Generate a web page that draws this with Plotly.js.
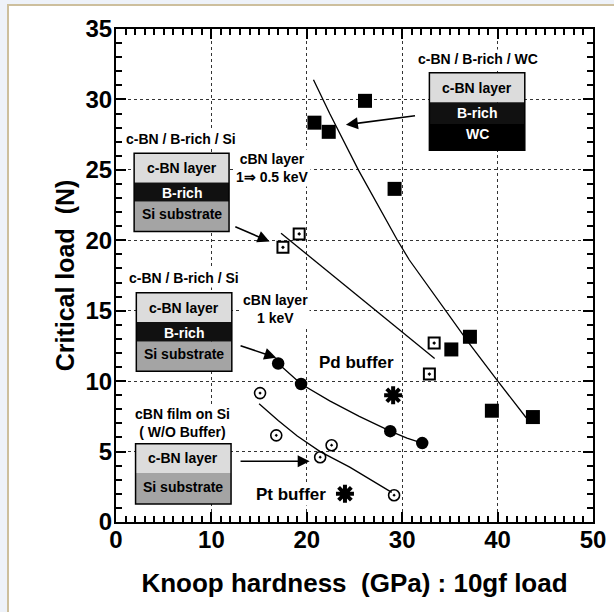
<!DOCTYPE html>
<html>
<head>
<meta charset="utf-8">
<script src="https://cdn.plot.ly/plotly-3.0.1.min.js"></script>
<style>
  html, body { margin: 0; padding: 0; width: 614px; height: 612px; overflow: hidden; background: #eef2f9; }
  #frame { position: absolute; left: 7px; top: 4px; width: 607px; height: 608px; background: #ffffff;
           border-left: 2px solid #cdbf9d; border-top: 2px solid #cdbf9d; box-sizing: border-box; }
  #chart { position: absolute; left: 0; top: 0; width: 614px; height: 612px; }
</style>
</head>
<body>
<div id="frame"></div>
<div id="chart"></div>
<script>
// ---- Data ----
// c-BN / B-rich / WC (filled squares)
const wcX = [20.8, 22.3, 26.1, 29.2, 35.15, 37.1, 39.4, 43.7];
const wcY = [28.35, 27.7, 29.9, 23.65, 12.25, 13.15, 7.9, 7.45];
const wcFitX = [20.7, 22.4, 25.4, 29.5, 30.75, 37.0, 39.8, 43.0];
const wcFitY = [31.4, 29.0, 25.0, 20.0, 18.6, 12.7, 10.2, 7.4];

// c-BN / B-rich / Si, cBN layer 1 => 0.5 keV (open squares with dot)
const halfX = [17.5, 19.2, 33.35, 32.85];
const halfY = [19.5, 20.45, 12.7, 10.5];
const halfFitX = [17.3, 33.4];
const halfFitY = [20.5, 11.6];

// c-BN / B-rich / Si, cBN layer 1 keV (filled circles)
const oneX = [17.0, 19.4, 28.75, 32.1];
const oneY = [11.25, 9.8, 6.45, 5.6];
const oneFitX = [17.0, 19.4, 22.4, 25.5, 28.75, 30.5, 32.1];
const oneFitY = [11.25, 9.8, 8.6, 7.5, 6.45, 5.95, 5.6];

// cBN film on Si without buffer (open circles with dot)
const noBufX = [15.1, 16.8, 22.6, 21.4, 29.15];
const noBufY = [9.15, 6.15, 5.45, 4.6, 1.9];
const noBufFitX = [15.0, 17.0, 19.0, 21.4, 24.5, 27.0, 28.9];
const noBufFitY = [8.4, 7.2, 6.1, 5.0, 3.9, 2.9, 2.1];

// Pd and Pt buffers (asterisks)
const pdX = [29.05];
const pdY = [9.0];
const ptX = [24.0];
const ptY = [2.0];

// Axis ranges and tick steps
const xRange = [0, 50];
const yRange = [0, 35];
const xMajor = 10, xMinor = 1;
const yMajor = 5, yMinor = 1;

// Layer diagrams: [x0, x1], layer boundaries (top -> bottom), labels
const boxWC = {x: [32.85, 42.85], y: [31.9, 29.8, 28.25, 26.4], labels: ['c-BN layer', 'B-rich', 'WC'], labelY: [30.83, 29.02, 27.55]};
const boxHalf = {x: [1.9, 11.85], y: [26.18, 24.1, 22.73, 20.62], labels: ['c-BN layer', 'B-rich', 'Si substrate'], labelY: [25.13, 23.37, 21.87]};
const boxOne = {x: [2.13, 12.14], y: [16.28, 14.19, 12.8, 10.71], labels: ['c-BN layer', 'B-rich', 'Si substrate'], labelY: [15.22, 13.44, 11.91]};
const boxNo = {x: [2.05, 12.06], y: [5.56, 3.48, 1.28], labels: ['c-BN layer', 'Si substrate'], labelY: [4.54, 2.48]};

// Arrows: [tailX, tailY, headX, headY]
const arrows = [
  [31.5, 28.85, 24.1, 28.2],
  [12.35, 21.0, 16.1, 19.92],
  [12.9, 12.55, 16.8, 11.66],
  [12.9, 4.31, 20.3, 4.31]
];

// ---- Build figure ----
const FONT = 'Arial, "Liberation Sans", Helvetica, sans-serif';
const lineStyle = {color: '#000', width: 1.3};

const traces = [
  {x: wcFitX, y: wcFitY, mode: 'lines', line: lineStyle, hoverinfo: 'skip'},
  {x: halfFitX, y: halfFitY, mode: 'lines', line: lineStyle, hoverinfo: 'skip'},
  {x: oneFitX, y: oneFitY, mode: 'lines', line: lineStyle, hoverinfo: 'skip'},
  {x: noBufFitX, y: noBufFitY, mode: 'lines', line: lineStyle, hoverinfo: 'skip'},
  {x: wcX, y: wcY, mode: 'markers', marker: {symbol: 'square', size: 14, color: '#000'}},
  {x: halfX, y: halfY, mode: 'markers', marker: {symbol: 'square-open-dot', size: 11, color: '#000', line: {width: 2, color: '#000'}}},
  {x: oneX, y: oneY, mode: 'markers', marker: {symbol: 'circle', size: 12.5, color: '#000'}},
  {x: noBufX, y: noBufY, mode: 'markers', marker: {symbol: 'circle-open-dot', size: 11, color: '#000', line: {width: 1.6, color: '#000'}}},
  {x: pdX, y: pdY, mode: 'markers', marker: {symbol: 'asterisk-open', size: 15, color: '#000', line: {width: 4, color: '#000'}}},
  {x: ptX, y: ptY, mode: 'markers', marker: {symbol: 'asterisk-open', size: 15, color: '#000', line: {width: 4, color: '#000'}}},
  // invisible trace that carries the minor-tick overlay axes
  {x: xRange, y: yRange, xaxis: 'x2', yaxis: 'y2', mode: 'markers', marker: {opacity: 0}, hoverinfo: 'skip'}
];

const shapes = [];
const annotations = [];
const layerColor = {'c-BN layer': '#dcdcdc', 'B-rich': '#111111', 'WC': '#000000', 'Si substrate': '#a4a4a4'};
const textColor = {'c-BN layer': '#000', 'B-rich': '#fff', 'WC': '#fff', 'Si substrate': '#000'};

function addBox(b) {
  for (let i = 0; i < b.labels.length; i++) {
    shapes.push({type: 'rect', xref: 'x', yref: 'y', x0: b.x[0], x1: b.x[1], y0: b.y[i + 1], y1: b.y[i],
                 fillcolor: layerColor[b.labels[i]], line: {width: 0}, layer: 'above'});
    annotations.push({x: (b.x[0] + b.x[1]) / 2, y: b.labelY[i], xref: 'x', yref: 'y', text: b.labels[i], showarrow: false,
                      font: {size: 14, color: textColor[b.labels[i]], family: FONT, weight: 'bold'}});
  }
  shapes.push({type: 'rect', xref: 'x', yref: 'y', x0: b.x[0], x1: b.x[1], y0: b.y[b.y.length - 1], y1: b.y[0],
               fillcolor: 'rgba(0,0,0,0)', line: {width: 1.5, color: '#000'}, layer: 'above'});
}
[boxWC, boxHalf, boxOne, boxNo].forEach(addBox);

function addText(x, y, text, size) {
  annotations.push({x: x, y: y, xref: 'x', yref: 'y', text: text, showarrow: false, bgcolor: '#fff',
                    font: {size: size, color: '#000', family: FONT, weight: 'bold'}});
}
addText(37.9, 32.9, 'c-BN / B-rich / WC', 14);
addText(6.8, 27.2, 'c-BN / B-rich / Si', 14);
addText(7.1, 17.3, 'c-BN / B-rich / Si', 14);
addText(16.4, 25.1, 'cBN layer<br>1⇒ 0.5 keV', 14);
addText(16.7, 15.1, 'cBN layer<br>1 keV', 14);
addText(7.0, 7.0, 'cBN film on Si<br>( W/O Buffer)', 14);
addText(25.2, 11.35, 'Pd buffer', 17);
addText(18.3, 1.98, 'Pt buffer', 17);

arrows.forEach(a => {
  annotations.push({x: a[2], y: a[3], ax: a[0], ay: a[1], xref: 'x', yref: 'y', axref: 'x', ayref: 'y',
                    text: '', showarrow: true, arrowhead: 2, arrowsize: 1.5, arrowwidth: 1.6, arrowcolor: '#000', standoff: 0});
});

const axisCommon = {
  showline: true, linecolor: '#000', linewidth: 2, mirror: 'ticks',
  ticks: 'inside', ticklen: 10, tickwidth: 2, tickcolor: '#000',
  showgrid: true, gridcolor: '#333', gridwidth: 1, griddash: 'dot',
  zeroline: false, layer: 'above traces',
  tickfont: {size: 24, color: '#000', family: FONT, weight: 'bold'}
};
const minorCommon = {
  showline: false, mirror: 'ticks', layer: 'above traces',
  ticks: 'inside', ticklen: 6, tickwidth: 2, tickcolor: '#000',
  showgrid: false, zeroline: false, showticklabels: false, tickmode: 'linear', tick0: 0
};

const layout = {
  width: 614, height: 612,
  margin: {l: 116, r: 21, t: 29, b: 90},
  paper_bgcolor: 'rgba(0,0,0,0)',
  plot_bgcolor: '#fff',
  showlegend: false,
  font: {family: FONT, color: '#000', weight: 'bold'},
  xaxis: Object.assign({}, axisCommon, {
    range: xRange, tickmode: 'linear', tick0: 0, dtick: xMajor,
    ticklabelstandoff: -5,
    title: {text: 'Knoop hardness  (GPa) : 10gf load', standoff: 22, font: {size: 26, color: '#000', family: FONT, weight: 'bold'}}
  }),
  yaxis: Object.assign({}, axisCommon, {
    range: yRange, tickmode: 'linear', tick0: 0, dtick: yMajor,
    ticklabelstandoff: -3,
    title: {text: 'Critical load  (N)', standoff: 4, font: {size: 25, color: '#000', family: FONT, weight: 'bold'}}
  }),
  xaxis2: Object.assign({}, minorCommon, {range: xRange, dtick: xMinor, overlaying: 'x', anchor: 'y2', side: 'bottom'}),
  yaxis2: Object.assign({}, minorCommon, {range: yRange, dtick: yMinor, overlaying: 'y', anchor: 'x2', side: 'left'}),
  shapes: shapes,
  annotations: annotations
};

Plotly.newPlot('chart', traces, layout, {displayModeBar: false});
</script>
</body>
</html>
